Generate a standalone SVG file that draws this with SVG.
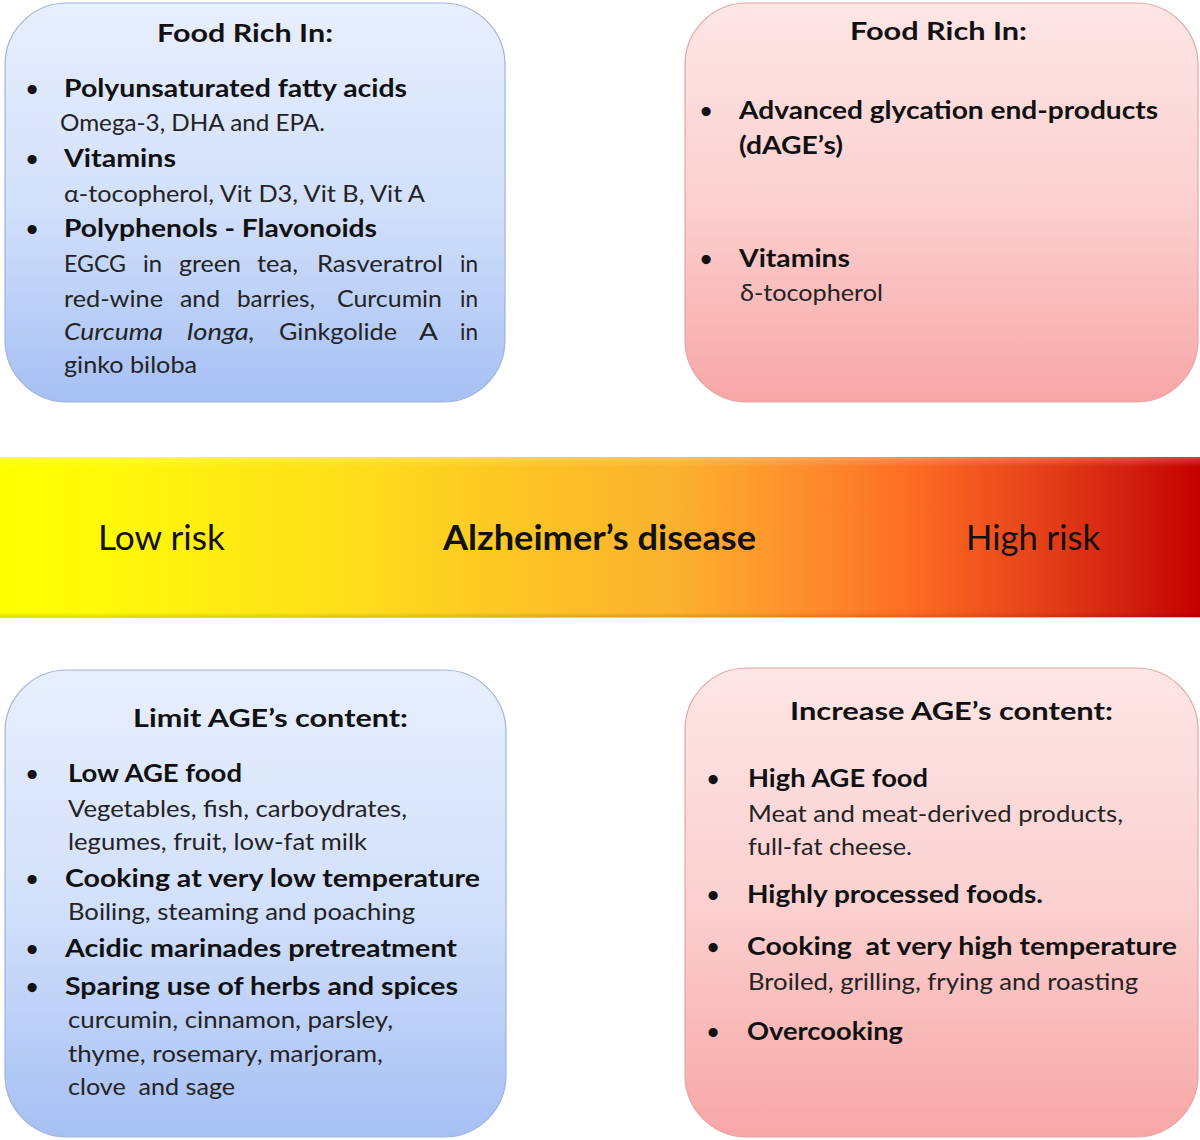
<svg xmlns="http://www.w3.org/2000/svg" width="1200" height="1140" viewBox="0 0 1200 1140">
<defs>
<linearGradient id="blueG" x1="0" y1="0" x2="0" y2="1">
<stop offset="0" stop-color="#e8effd"/>
<stop offset="0.5" stop-color="#d2e0fa"/>
<stop offset="1" stop-color="#a6c0f4"/>
</linearGradient>
<linearGradient id="pinkG" x1="0" y1="0" x2="0" y2="1">
<stop offset="0" stop-color="#fde6e6"/>
<stop offset="0.5" stop-color="#fbd0d0"/>
<stop offset="1" stop-color="#f8a6a6"/>
</linearGradient>
<linearGradient id="barG" x1="0" y1="0" x2="1" y2="0">
<stop offset="0" stop-color="#ffff00"/>
<stop offset="0.08" stop-color="#fffa08"/>
<stop offset="0.3" stop-color="#ffdc1c"/>
<stop offset="0.45" stop-color="#fcc226"/>
<stop offset="0.56" stop-color="#fbb22e"/>
<stop offset="0.68" stop-color="#ff8a2c"/>
<stop offset="0.77" stop-color="#fb6822"/>
<stop offset="0.86" stop-color="#e6441a"/>
<stop offset="0.94" stop-color="#d2200e"/>
<stop offset="1" stop-color="#c40000"/>
</linearGradient>
<linearGradient id="barShade" x1="0" y1="0" x2="0" y2="1">
<stop offset="0" stop-color="#ffffff" stop-opacity="0.25"/>
<stop offset="0.06" stop-color="#ffffff" stop-opacity="0"/>
<stop offset="0.97" stop-color="#000000" stop-opacity="0"/>
<stop offset="1" stop-color="#000000" stop-opacity="0.12"/>
</linearGradient>
</defs>
<style>
text { font-family: Lato, "Open Sans", "Liberation Sans", sans-serif; }
.b { font-weight: 700; font-size: 25px; fill: #111111; }
.r { font-weight: 400; font-size: 24px; fill: #232323; }
.i { font-style: italic; }
.dot { font-weight: 700; font-size: 21px; fill: #111111; text-anchor: middle; }
.bar { font-size: 35px; fill: #111111; }
.blue { fill: url(#blueG); stroke: #9fb4da; stroke-width: 1.2; }
.pink { fill: url(#pinkG); stroke: #e7a3a3; stroke-width: 1.2; }
.pre { white-space: pre; }
</style>
<rect width="1200" height="1140" fill="#ffffff"/>

<g id="connectors"></g>

<g id="box-top-left">
<rect class="blue" x="5" y="3" width="500" height="399" rx="62" ry="62"/>
<text class="b" x="157" y="42" textLength="176" lengthAdjust="spacingAndGlyphs">Food Rich In:</text>
<text class="dot" x="32" y="96">•</text>
<text class="b" x="64" y="97" textLength="343" lengthAdjust="spacingAndGlyphs">Polyunsaturated fatty acids</text>
<text class="r" x="60" y="131" textLength="265" lengthAdjust="spacingAndGlyphs">Omega-3, DHA and EPA.</text>
<text class="dot" x="32" y="166">•</text>
<text class="b" x="64" y="167" textLength="112" lengthAdjust="spacingAndGlyphs">Vitamins</text>
<text class="r" x="64" y="202" textLength="361" lengthAdjust="spacingAndGlyphs">α-tocopherol, Vit D3, Vit B, Vit A</text>
<text class="dot" x="32" y="236">•</text>
<text class="b" x="64" y="237" textLength="313" lengthAdjust="spacingAndGlyphs">Polyphenols - Flavonoids</text>
<text class="r" y="272"><tspan x="64" textLength="62" lengthAdjust="spacingAndGlyphs">EGCG</tspan> <tspan x="143" textLength="19" lengthAdjust="spacingAndGlyphs">in</tspan> <tspan x="179" textLength="62" lengthAdjust="spacingAndGlyphs">green</tspan> <tspan x="257" textLength="41" lengthAdjust="spacingAndGlyphs">tea,</tspan> <tspan x="317" textLength="126" lengthAdjust="spacingAndGlyphs">Rasveratrol</tspan> <tspan x="460" textLength="18" lengthAdjust="spacingAndGlyphs">in</tspan></text>
<text class="r" y="307"><tspan x="64" textLength="99" lengthAdjust="spacingAndGlyphs">red-wine</tspan> <tspan x="180" textLength="40" lengthAdjust="spacingAndGlyphs">and</tspan> <tspan x="237" textLength="78" lengthAdjust="spacingAndGlyphs">barries,</tspan> <tspan x="337" textLength="105" lengthAdjust="spacingAndGlyphs">Curcumin</tspan> <tspan x="460" textLength="18" lengthAdjust="spacingAndGlyphs">in</tspan></text>
<text class="r" y="340"><tspan class="i" x="64" textLength="99" lengthAdjust="spacingAndGlyphs">Curcuma</tspan> <tspan class="i" x="187" textLength="68" lengthAdjust="spacingAndGlyphs">longa,</tspan> <tspan x="279" textLength="118" lengthAdjust="spacingAndGlyphs">Ginkgolide</tspan> <tspan x="419" textLength="18" lengthAdjust="spacingAndGlyphs">A</tspan> <tspan x="460" textLength="18" lengthAdjust="spacingAndGlyphs">in</tspan></text>
<text class="r" x="64" y="373" textLength="133" lengthAdjust="spacingAndGlyphs">ginko biloba</text>
</g>

<g id="box-top-right">
<rect class="pink" x="685" y="3" width="513" height="399" rx="62" ry="62"/>
<text class="b" x="850" y="40" textLength="177" lengthAdjust="spacingAndGlyphs">Food Rich In:</text>
<text class="dot" x="706" y="118">•</text>
<text class="b" x="739" y="119" textLength="419" lengthAdjust="spacingAndGlyphs">Advanced glycation end-products</text>
<text class="b" x="739" y="154" textLength="104" lengthAdjust="spacingAndGlyphs">(dAGE’s)</text>
<text class="dot" x="706" y="266">•</text>
<text class="b" x="739" y="267" textLength="111" lengthAdjust="spacingAndGlyphs">Vitamins</text>
<text class="r" x="740" y="301" textLength="143" lengthAdjust="spacingAndGlyphs">δ-tocopherol</text>
</g>

<g id="risk-bar">
<rect x="0" y="457" width="1200" height="160" fill="url(#barG)"/>
<rect x="0" y="457" width="1200" height="160" fill="url(#barShade)"/>
<line x1="0" y1="617.5" x2="1200" y2="617.5" stroke="#c8c8c8" stroke-width="1.2"/>
<text class="bar" x="98" y="550" textLength="127" lengthAdjust="spacingAndGlyphs">Low risk</text>
<text class="bar" x="443" y="550" font-weight="700" textLength="313" lengthAdjust="spacingAndGlyphs">Alzheimer’s disease</text>
<text class="bar" x="966" y="550" textLength="134" lengthAdjust="spacingAndGlyphs">High risk</text>
</g>

<g id="box-bottom-left">
<rect class="blue" x="5" y="670" width="501" height="467" rx="62" ry="62"/>
<text class="b" x="133" y="727" textLength="275" lengthAdjust="spacingAndGlyphs">Limit AGE’s content:</text>
<text class="dot" x="32" y="781">•</text>
<text class="b" x="68" y="782" textLength="174" lengthAdjust="spacingAndGlyphs">Low AGE food</text>
<text class="r" x="68" y="817" textLength="339" lengthAdjust="spacingAndGlyphs">Vegetables, fish, carboydrates,</text>
<text class="r" x="68" y="850" textLength="299" lengthAdjust="spacingAndGlyphs">legumes, fruit, low-fat milk</text>
<text class="dot" x="32" y="886">•</text>
<text class="b" x="65" y="887" textLength="415" lengthAdjust="spacingAndGlyphs">Cooking at very low temperature</text>
<text class="r" x="68" y="920" textLength="347" lengthAdjust="spacingAndGlyphs">Boiling, steaming and poaching</text>
<text class="dot" x="32" y="956">•</text>
<text class="b" x="65" y="957" textLength="392" lengthAdjust="spacingAndGlyphs">Acidic marinades pretreatment</text>
<text class="dot" x="32" y="994">•</text>
<text class="b" x="65" y="995" textLength="393" lengthAdjust="spacingAndGlyphs">Sparing use of herbs and spices</text>
<text class="r" x="68" y="1028" textLength="325" lengthAdjust="spacingAndGlyphs">curcumin, cinnamon, parsley,</text>
<text class="r" x="68" y="1062" textLength="315" lengthAdjust="spacingAndGlyphs">thyme, rosemary, marjoram,</text>
<text class="r pre" x="68" y="1095" textLength="167" lengthAdjust="spacingAndGlyphs">clove  and sage</text>
</g>

<g id="box-bottom-right">
<rect class="pink" x="685" y="668" width="513" height="469" rx="62" ry="62"/>
<text class="b" x="790" y="720" textLength="323" lengthAdjust="spacingAndGlyphs">Increase AGE’s content:</text>
<text class="dot" x="713" y="786">•</text>
<text class="b" x="748" y="787" textLength="180" lengthAdjust="spacingAndGlyphs">High AGE food</text>
<text class="r" x="748" y="822" textLength="375" lengthAdjust="spacingAndGlyphs">Meat and meat-derived products,</text>
<text class="r" x="748" y="855" textLength="164" lengthAdjust="spacingAndGlyphs">full-fat cheese.</text>
<text class="dot" x="713" y="902">•</text>
<text class="b" x="747" y="903" textLength="296" lengthAdjust="spacingAndGlyphs">Highly processed foods.</text>
<text class="dot" x="713" y="954">•</text>
<text class="b pre" x="747" y="955" textLength="430" lengthAdjust="spacingAndGlyphs">Cooking  at very high temperature</text>
<text class="r" x="748" y="990" textLength="390" lengthAdjust="spacingAndGlyphs">Broiled, grilling, frying and roasting</text>
<text class="dot" x="713" y="1039">•</text>
<text class="b" x="747" y="1040" textLength="156" lengthAdjust="spacingAndGlyphs">Overcooking</text>
</g>
</svg>
